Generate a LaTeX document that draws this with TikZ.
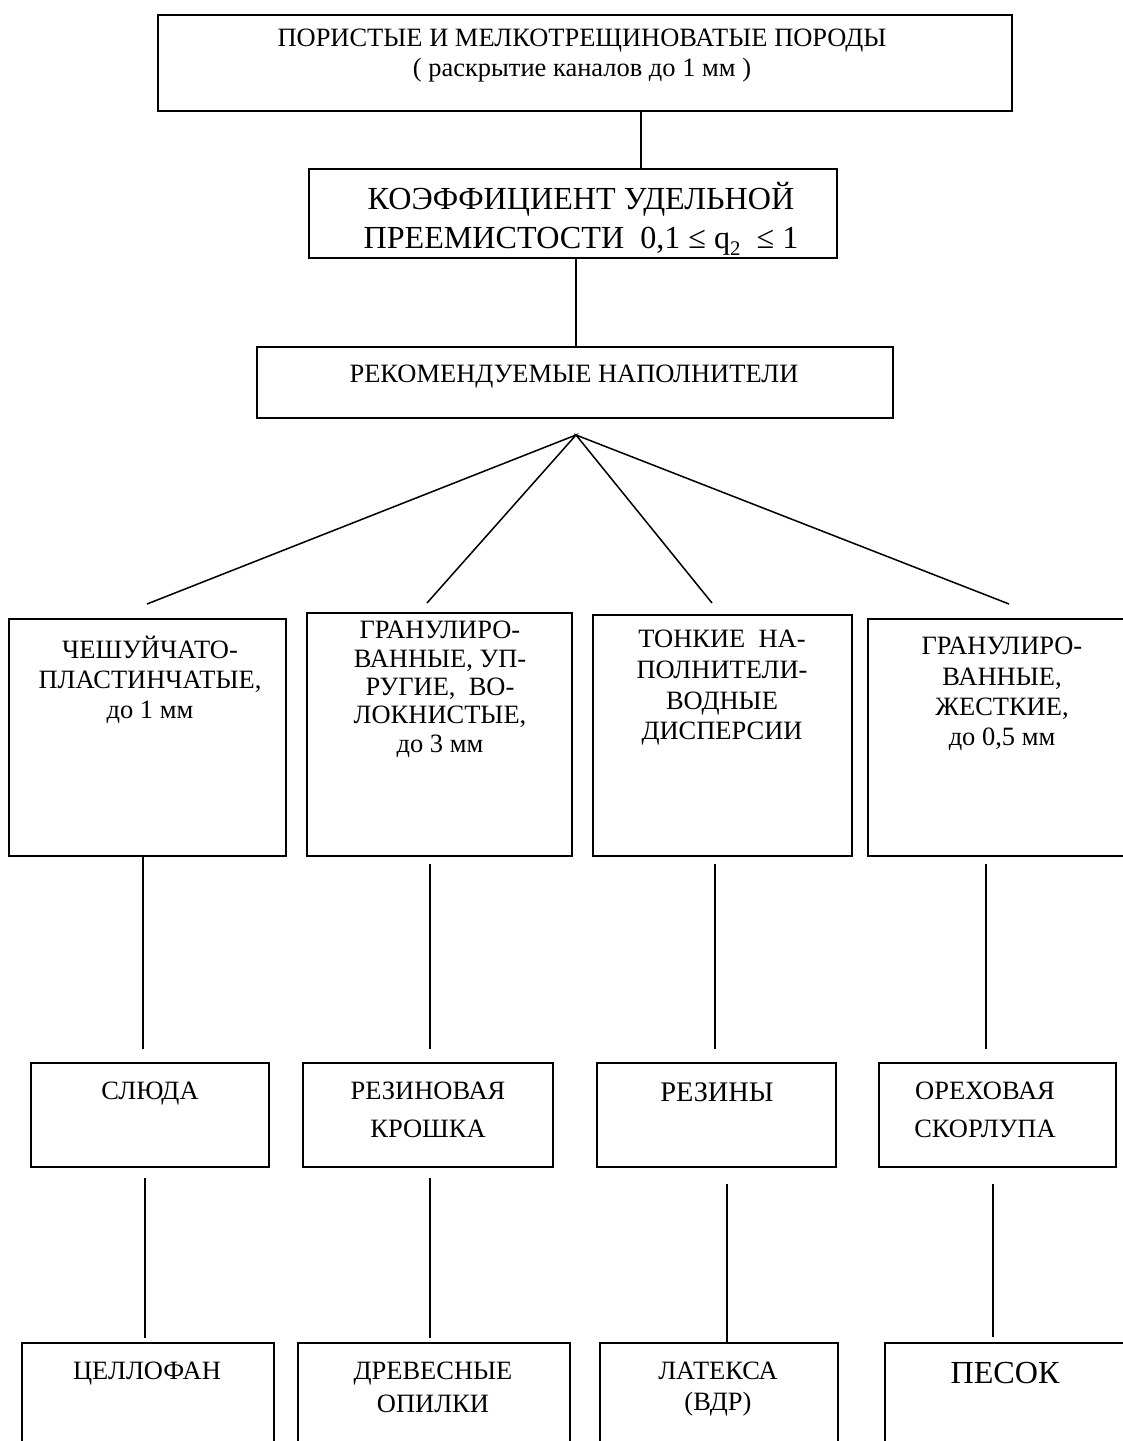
\documentclass[tikz,border=0pt]{standalone}
\usepackage{fontspec}
\setmainfont{Liberation Serif}
\usetikzlibrary{positioning,fit}

\begin{document}
\begin{tikzpicture}[x=0.529pt, y=-0.529pt,
  box/.style={draw, line width=1.1pt, inner sep=0pt},
  txt/.style={align=center, inner sep=0pt, anchor=north},
  link/.style={line width=0.8pt}]
\useasboundingbox (0,0) rectangle (1122,1441);

% upper part
\node[box, fit={(158,15) (1012,111)}] (rocks) {};
\node[txt, font=\fontsize{14}{15.9}\selectfont] (rockstxt) at (582,29) {ПОРИСТЫЕ И МЕЛКОТРЕЩИНОВАТЫЕ ПОРОДЫ\\( раскрытие каналов до 1 мм )};
\node[box, fit={(309,169) (837,258)}] (coef) {};
\node[txt, font=\fontsize{17}{20.6}\selectfont] (coeftxt) at (581,182) {КОЭФФИЦИЕНТ УДЕЛЬНОЙ\\ПРЕЕМИСТОСТИ~ 0,1 ≤ q\lower.45ex\hbox{\fontsize{11}{11}\selectfont 2}~ ≤ 1};
\node[box, fit={(257,347) (893,418)}] (fillers) {};
\node[txt, font=\fontsize{14}{16}\selectfont] (fillerstxt) at (574,365) {РЕКОМЕНДУЕМЫЕ НАПОЛНИТЕЛИ};

% kinds of fillers
\node[box, fit={(9,619) (286,856)}] (flaky) {};
\node[txt, font=\fontsize{14}{15.9}\selectfont] (flakytxt) at (150,636) {ЧЕШУЙЧАТО-\\ПЛАСТИНЧАТЫЕ,\\до 1 мм};
\node[box, fit={(307,613) (572,856)}] (elastic) {};
\node[txt, font=\fontsize{14}{15}\selectfont] (elastictxt) at (440,621) {ГРАНУЛИРО-\\ВАННЫЕ, УП-\\РУГИЕ,~ ВО-\\ЛОКНИСТЫЕ,\\до 3 мм};
\node[box, fit={(593,615) (852,856)}] (fine) {};
\node[txt, font=\fontsize{14}{16.2}\selectfont] (finetxt) at (722,630) {ТОНКИЕ~ НА-\\ПОЛНИТЕЛИ-\\ВОДНЫЕ\\ДИСПЕРСИИ};
\node[box, fit={(868,619) (1136,856)}] (hard) {};
\node[txt, font=\fontsize{14}{16}\selectfont] (hardtxt) at (1002,637) {ГРАНУЛИРО-\\ВАННЫЕ,\\ЖЕСТКИЕ,\\до 0,5 мм};

% materials
\node[box, fit={(31,1063) (269,1167)}] (mica) {};
\node[txt, font=\fontsize{14}{16}\selectfont] (micatxt) at (150,1082) {СЛЮДА};
\node[box, fit={(303,1063) (553,1167)}] (crumb) {};
\node[txt, font=\fontsize{14}{20}\selectfont] (crumbtxt) at (428,1082) {РЕЗИНОВАЯ\\КРОШКА};
\node[box, fit={(597,1063) (836,1167)}] (resin) {};
\node[txt, font=\fontsize{15}{18}\selectfont] (resintxt) at (717,1082) {РЕЗИНЫ};
\node[box, fit={(879,1063) (1116,1167)}] (shell) {};
\node[txt, font=\fontsize{14}{20}\selectfont] (shelltxt) at (985,1082) {ОРЕХОВАЯ\\СКОРЛУПА};

\node[box, fit={(22,1343) (274,1470)}] (cello) {};
\node[txt, font=\fontsize{14}{16}\selectfont] (cellotxt) at (147,1362) {ЦЕЛЛОФАН};
\node[box, fit={(298,1343) (570,1470)}] (sawdust) {};
\node[txt, font=\fontsize{14}{17}\selectfont] (sawdusttxt) at (433,1362) {ДРЕВЕСНЫЕ\\ОПИЛКИ};
\node[box, fit={(600,1343) (838,1470)}] (latex) {};
\node[txt, font=\fontsize{14}{16.4}\selectfont] (latextxt) at (718,1362) {ЛАТЕКСА\\(ВДР)};
\node[box, fit={(885,1343) (1140,1470)}] (sand) {};
\node[txt, font=\fontsize{17}{20}\selectfont] (sandtxt) at (1005,1362) {ПЕСОК};

% connectors
\coordinate (top) at (641,0);
\coordinate (mid) at (576,0);
\coordinate (apex) at (576,435);
\coordinate (endA) at (147,604);
\coordinate (endB) at (427,603);
\coordinate (endC) at (712,603);
\coordinate (endD) at (1009,604);
\coordinate (a1) at (143,0);
\coordinate (b1) at (430,0);
\coordinate (c1) at (715,0);
\coordinate (d1) at (986,0);
\coordinate (a2) at (145,0);
\coordinate (b2) at (430,0);
\coordinate (c2) at (727,0);
\coordinate (d2) at (993,0);

\draw[link] (rocks.south -| top) -- (coef.north -| top);
\draw[link] (coef.south -| mid) -- (fillers.north -| mid);
\draw[link] (endA) -- (apex) -- (endB);
\draw[link] (endC) -- (apex) -- (endD);

\draw[link, shorten >=6.9pt] (flaky.south -| a1) -- (mica.north -| a1);
\draw[link, shorten <=3.7pt, shorten >=6.9pt] (elastic.south -| b1) -- (crumb.north -| b1);
\draw[link, shorten <=3.7pt, shorten >=6.9pt] (fine.south -| c1) -- (resin.north -| c1);
\draw[link, shorten <=3.7pt, shorten >=6.9pt] (hard.south -| d1) -- (shell.north -| d1);

\draw[link, shorten <=5.3pt, shorten >=2.1pt] (mica.south -| a2) -- (cello.north -| a2);
\draw[link, shorten <=5.3pt, shorten >=2.1pt] (crumb.south -| b2) -- (sawdust.north -| b2);
\draw[link, shorten <=8.5pt] (resin.south -| c2) -- (latex.north -| c2);
\draw[link, shorten <=8.5pt, shorten >=2.6pt] (shell.south -| d2) -- (sand.north -| d2);
\end{tikzpicture}
\end{document}
